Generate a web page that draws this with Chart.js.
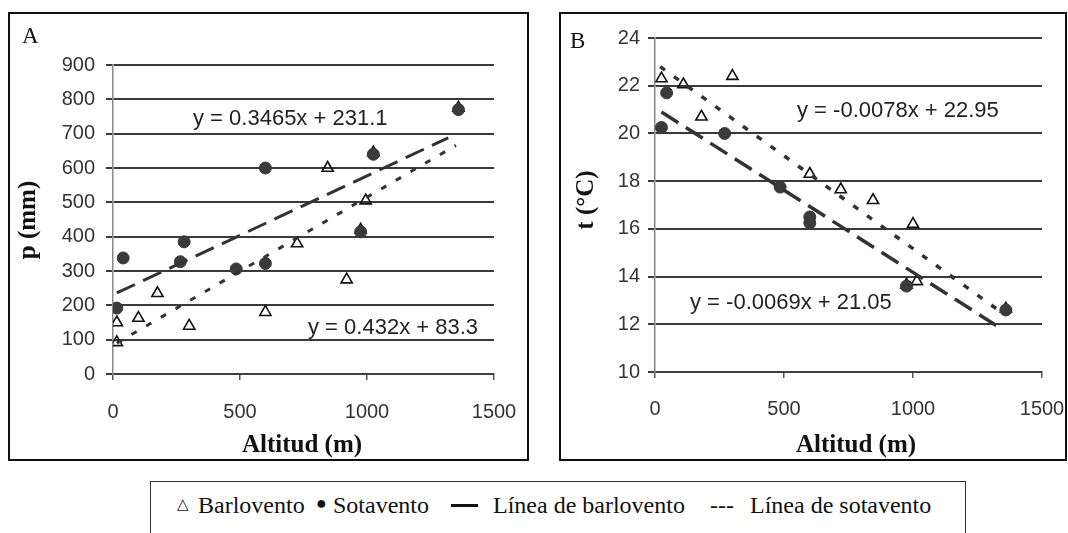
<!DOCTYPE html>
<html>
<head>
<meta charset="utf-8">
<script src="https://cdn.jsdelivr.net/npm/chart.js@4.4.0/dist/chart.umd.min.js"></script>
<style>
body { margin:0; width:1068px; height:533px; overflow:hidden; background:#fff; position:relative; }
.panel { position:absolute; border:2px solid #111; box-sizing:border-box; }
.wrap { position:absolute; top:0; height:470px; }
.txt { position:absolute; white-space:nowrap; }
.eq { font-family:"Liberation Sans", Arial, sans-serif; font-size:22px; line-height:22px; color:#222; transform:translateY(-50%); }
.letter { font-family:"Liberation Serif", serif; font-size:23px; line-height:23px; color:#111; }
.ttl { font-family:"Liberation Serif", serif; font-weight:bold; font-size:25px; line-height:25px; color:#111; transform:translate(-50%,-50%); }
.ttlv { font-family:"Liberation Serif", serif; font-weight:bold; font-size:25px; line-height:25px; color:#111; transform:translate(-50%,-50%) rotate(-90deg); }
.legend { position:absolute; left:150px; top:481px; width:816px; height:70px; border:1.5px solid #333; box-sizing:border-box; }
.lg { position:absolute; top:493px; font-family:"Liberation Serif", serif; font-size:24px; line-height:24px; color:#111; white-space:nowrap; }
</style>
</head>
<body>

<div class="panel" style="left:8px; top:12px; width:521px; height:449px;"></div>
<div class="panel" style="left:559px; top:12px; width:508px; height:449px;"></div>

<div class="wrap" style="left:0; width:540px;"><canvas id="chartA"></canvas></div>
<div class="wrap" style="left:540px; width:528px;"><canvas id="chartB"></canvas></div>

<div class="txt letter" style="left:22px; top:24px;">A</div>
<div class="txt letter" style="left:570px; top:29px;">B</div>

<div class="txt ttlv" style="left:26px; top:220px;">p (mm)</div>
<div class="txt ttl" style="left:302px; top:443px;">Altitud (m)</div>
<div class="txt ttlv" style="left:584px; top:200px;">t (°C)</div>
<div class="txt ttl" style="left:856px; top:443px;">Altitud (m)</div>

<div class="txt eq" style="left:193px; top:118px;">y = 0.3465x + 231.1</div>
<div class="txt eq" style="left:308px; top:327px;">y = 0.432x + 83.3</div>
<div class="txt eq" style="left:797px; top:110px;">y = -0.0078x + 22.95</div>
<div class="txt eq" style="left:690px; top:302px;">y = -0.0069x + 21.05</div>

<div class="legend"></div>
<div class="lg" style="left:177px; font-size:15px; line-height:15px; top:497px;">△</div>
<div class="lg" style="left:198px;">Barlovento</div>
<div class="lg" style="left:316px; font-size:18px; line-height:18px; top:494px;">●</div>
<div class="lg" style="left:333px;">Sotavento</div>
<div style="position:absolute; left:451px; top:504px; width:27px; height:3px; background:#111;"></div>
<div class="lg" style="left:493px;">Línea de barlovento</div>
<div class="lg" style="left:710px;">---</div>
<div class="lg" style="left:750px;">Línea de sotavento</div>

<script>
// Panel A: precipitacion vs altitud
const altBarA = [15, 15, 100, 175, 300, 600, 725, 845, 920, 975, 995, 1025, 1360];
const pBarA   = [150, 92, 163, 235, 140, 180, 380, 600, 275, 420, 505, 645, 775];
const altSotA = [15, 40, 265, 280, 485, 600, 600, 975, 1025, 1360];
const pSotA   = [192, 338, 327, 385, 306, 322, 600, 414, 640, 770];
// rectas de tendencia (extremos)
const lineLongA_x  = [15, 1320];
const lineLongA_y  = [236, 688];
const lineShortA_x = [15, 1350];
const lineShortA_y = [90, 666];

// Panel B: temperatura vs altitud
const altBarB = [25, 110, 180, 300, 600, 720, 845, 975, 1000, 1015, 1360];
const tBarB   = [22.3, 22.05, 20.7, 22.4, 18.3, 17.65, 17.2, 13.65, 16.2, 13.8, 12.65];
const altSotB = [25, 45, 270, 485, 600, 600, 975, 1360];
const tSotB   = [20.25, 21.7, 20.0, 17.75, 16.5, 16.25, 13.6, 12.6];
const lineLongB_x  = [25, 1330];
const lineLongB_y  = [20.9, 11.9];
const lineShortB_x = [20, 1330];
const lineShortB_y = [22.8, 12.6];

const xTicks = [0, 500, 1000, 1500];

function pts(xs, ys) {
  return xs.map((x, i) => ({ x: x, y: ys[i] }));
}

function datasets(altBar, vBar, altSot, vSot, lx1, ly1, lx2, ly2, lw) {
  return [
    {
      label: 'Línea de barlovento', type: 'line', data: pts(lx1, ly1),
      borderColor: '#333', borderWidth: lw, borderDash: [20, 9],
      pointRadius: 0, fill: false, showLine: true
    },
    {
      label: 'Línea de sotavento', type: 'line', data: pts(lx2, ly2),
      borderColor: '#333', borderWidth: lw, borderDash: [6, 11],
      pointRadius: 0, fill: false, showLine: true
    },
    {
      label: 'Sotavento', data: pts(altSot, vSot),
      pointStyle: 'circle', pointRadius: 6, backgroundColor: '#3a3a3a', borderColor: '#3a3a3a', borderWidth: 1
    },
    {
      label: 'Barlovento', data: pts(altBar, vBar),
      pointStyle: 'triangle', pointRadius: 6.5, backgroundColor: 'rgba(255,255,255,0)', borderColor: '#111', borderWidth: 1.6
    }
  ];
}

function makeOptions(ymin, ymax, ystep, pad, yWidth, xHeight, yPad, xPad) {
  return {
    responsive: false,
    animation: false,
    layout: { padding: pad },
    plugins: { legend: { display: false }, tooltip: { enabled: false } },
    scales: {
      x: {
        type: 'linear', min: 0, max: 1500,
        afterBuildTicks: s => { s.ticks = xTicks.map(v => ({ value: v })); },
        // sin relleno extra por las etiquetas, el area del grafico queda fija
        afterFit: s => { s.height = xHeight; s.paddingLeft = 0; s.paddingRight = 0; },
        grid: { drawOnChartArea: false, tickLength: 6, color: '#555', lineWidth: 1.5 },
        border: { display: true, color: '#444', width: 1.5 },
        ticks: { padding: xPad, color: '#333', font: { family: 'Liberation Sans', size: 20 },
                 callback: v => String(v) }
      },
      y: {
        min: ymin, max: ymax,
        ticks: { stepSize: ystep, padding: yPad, color: '#333', font: { family: 'Liberation Sans', size: 20 },
                 callback: v => String(v) },
        afterFit: s => { s.width = yWidth; s.paddingTop = 0; s.paddingBottom = 0; },
        grid: { color: '#3a3a3a', lineWidth: 2, tickLength: 7 },
        border: { display: true, color: '#888', width: 1.5 }
      }
    }
  };
}

function build(id, w, data, opts) {
  const cv = document.getElementById(id);
  cv.width = w; cv.height = 470;
  cv.style.width = w + 'px'; cv.style.height = '470px';
  return new Chart(cv.getContext('2d'), { type: 'scatter', data: { datasets: data }, options: opts });
}

build('chartA', 540,
  datasets(altBarA, pBarA, altSotA, pSotA, lineLongA_x, lineLongA_y, lineShortA_x, lineShortA_y, 3),
  makeOptions(0, 900, 100, { top: 65, right: 46, left: 0, bottom: 0 }, 113, 96, 11, 20));

build('chartB', 528,
  datasets(altBarB, tBarB, altSotB, tSotB, lineLongB_x, lineLongB_y, lineShortB_x, lineShortB_y, 3.5),
  makeOptions(10, 24, 2, { top: 38, right: 26, left: 0, bottom: 0 }, 115, 98, 8, 19));
</script>
</body>
</html>
